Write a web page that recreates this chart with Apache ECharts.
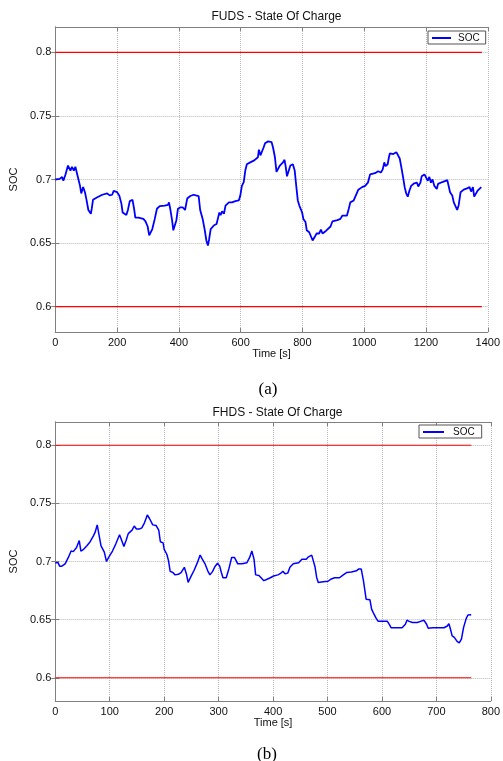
<!DOCTYPE html>
<html>
<head>
<meta charset="utf-8">
<script src="https://cdn.jsdelivr.net/npm/echarts@6/dist/echarts.min.js"></script>
<style>html,body{margin:0;padding:0;background:#fff;}#c{width:503px;height:761px;}</style>
</head>
<body>
<div id="c"></div>
<script>
// ---- Data ----
var fudsTime = [0,14,22,26,33,41,49,54,60,65,71,80,84,90,96,101,107,115,118,122,136,152,168,176,184,189,200,207,214,218,224,230,235,241,250,255,259,269,285,292,299,304,309,314,322,329,338,354,365,368,372,378,382,388,392,397,404,413,420,427,437,448,455,464,469,477,484,489,494,498,503,514,522,527,531,535,540,546,551,562,572,583,594,599,604,610,615,620,631,644,650,656,659,664,668,674,679,689,700,705,711,716,721,727,737,742,746,750,754,761,769,775,780,785,790,799,803,810,814,822,827,833,839,846,854,860,865,876,881,891,897,913,923,929,944,950,955,966,973,981,993,1003,1012,1019,1035,1045,1054,1060,1065,1069,1076,1080,1083,1094,1104,1110,1115,1120,1125,1131,1136,1141,1146,1152,1162,1171,1175,1182,1186,1195,1200,1206,1211,1216,1221,1227,1235,1239,1253,1269,1274,1278,1285,1290,1296,1301,1306,1312,1322,1333,1341,1346,1352,1356,1361,1368,1379];
var fudsSoc = [0.700,0.7005,0.702,0.699,0.704,0.711,0.707,0.710,0.707,0.710,0.704,0.695,0.689,0.694,0.690,0.684,0.676,0.673,0.677,0.684,0.686,0.688,0.689,0.6875,0.688,0.691,0.690,0.6875,0.681,0.674,0.674,0.672,0.676,0.683,0.684,0.677,0.670,0.670,0.669,0.667,0.663,0.656,0.655,0.661,0.669,0.677,0.679,0.6795,0.680,0.682,0.677,0.668,0.660,0.661,0.668,0.677,0.678,0.678,0.676,0.685,0.687,0.688,0.6875,0.687,0.676,0.669,0.660,0.652,0.648,0.653,0.661,0.664,0.665,0.670,0.674,0.672,0.675,0.673,0.6795,0.682,0.682,0.683,0.6835,0.6875,0.695,0.698,0.707,0.712,0.7135,0.715,0.716,0.7175,0.7235,0.719,0.720,0.725,0.7285,0.730,0.7295,0.725,0.7175,0.706,0.706,0.711,0.7135,0.7155,0.710,0.7025,0.702,0.711,0.712,0.707,0.695,0.6835,0.6795,0.674,0.669,0.6665,0.660,0.6585,0.658,0.652,0.6545,0.6575,0.6575,0.6605,0.6575,0.6595,0.661,0.663,0.667,0.668,0.669,0.6715,0.6715,0.677,0.682,0.6835,0.6875,0.692,0.694,0.695,0.6975,0.704,0.705,0.7065,0.7055,0.708,0.7135,0.7105,0.712,0.7175,0.7205,0.720,0.7215,0.7215,0.7165,0.710,0.703,0.694,0.689,0.6865,0.691,0.695,0.697,0.6975,0.6945,0.6975,0.7025,0.704,0.7045,0.699,0.702,0.6975,0.700,0.695,0.6925,0.6965,0.698,0.6995,0.699,0.690,0.6875,0.682,0.681,0.676,0.680,0.690,0.692,0.693,0.694,0.6905,0.694,0.6865,0.6875,0.6915,0.694];

var fhdsTime = [0,5,8,12,18,21,24,29,33,36,39,44,47,52,58,64,70,73,77,80,84,87,90,94,98,105,111,118,122,126,130,134,137,141,145,149,155,159,164,169,173,179,185,190,193,198,200,205,208,211,216,220,226,231,237,241,244,249,255,261,266,270,275,280,284,289,293,298,302,305,308,314,319,324,329,332,335,343,352,357,361,365,368,374,378,383,388,395,401,409,413,418,422,427,431,437,447,453,461,465,471,474,477,480,483,492,501,507,513,522,529,535,544,553,557,562,566,571,578,581,584,589,593,602,610,614,617,629,637,639,643,646,650,656,665,671,677,682,685,693,705,714,720,723,726,729,733,738,742,746,750,755,758,764];
var fhdsSoc = [0.699,0.699,0.696,0.696,0.698,0.699,0.7035,0.709,0.7085,0.707,0.712,0.718,0.709,0.7105,0.7135,0.717,0.722,0.725,0.7315,0.7235,0.7135,0.715,0.708,0.700,0.7035,0.709,0.715,0.723,0.718,0.713,0.718,0.724,0.723,0.727,0.7305,0.728,0.728,0.729,0.7335,0.740,0.737,0.7315,0.731,0.727,0.717,0.716,0.7105,0.706,0.7005,0.6915,0.6905,0.6885,0.689,0.6905,0.695,0.689,0.682,0.687,0.6925,0.699,0.7055,0.702,0.698,0.692,0.6885,0.6915,0.6955,0.6985,0.696,0.6905,0.686,0.686,0.694,0.7035,0.7035,0.701,0.698,0.698,0.699,0.7035,0.709,0.702,0.6885,0.688,0.686,0.6835,0.6845,0.686,0.6875,0.6885,0.6895,0.6915,0.6895,0.690,0.695,0.698,0.699,0.702,0.702,0.704,0.7055,0.7055,0.6955,0.6865,0.682,0.6825,0.683,0.685,0.686,0.686,0.6885,0.6905,0.691,0.692,0.6935,0.6935,0.6835,0.6675,0.667,0.659,0.656,0.6515,0.6485,0.6485,0.6485,0.6455,0.643,0.643,0.643,0.6415,0.646,0.6495,0.6485,0.6475,0.6475,0.6485,0.6495,0.646,0.6425,0.643,0.643,0.643,0.6445,0.6465,0.6415,0.636,0.6347,0.6313,0.630,0.6333,0.6433,0.6513,0.654,0.6542];

var socTicks = [0.6, 0.65, 0.7, 0.75, 0.8];
var limits = [0.6, 0.8];
var fudsLimitEnd = 1381;
var fhdsLimitEnd = 764;

function pairs(t, v) { return t.map(function (x, i) { return [x, v[i]]; }); }

var FONT = 'Liberation Sans, Arial, sans-serif';
var AXC = '#808080';

function xAxisPair(grid, max, interval) {
  return [
    { type: 'value', gridIndex: grid, min: 0, max: max, interval: interval, position: 'bottom',
      name: 'Time [s]', nameLocation: 'middle', nameGap: 15,
      nameTextStyle: { fontFamily: FONT, fontSize: 11, color: '#111' },
      axisLine: { lineStyle: { color: AXC, width: 1 } },
      axisTick: { inside: true, length: 4, lineStyle: { color: AXC } },
      axisLabel: { fontFamily: FONT, fontSize: 11, color: '#111', margin: 5,
        formatter: function (v) { return String(v); } },
      splitLine: { show: true, lineStyle: { type: 'dotted', color: '#b8b8b8', width: 1 } } },
    { type: 'value', gridIndex: grid, min: 0, max: max, interval: interval, position: 'top',
      axisLine: { show: true, lineStyle: { color: AXC, width: 1 } },
      axisTick: { inside: true, length: 4, lineStyle: { color: AXC } },
      axisLabel: { show: false }, splitLine: { show: false } }
  ];
}
function yAxisPair(grid) {
  return [
    { type: 'value', gridIndex: grid, min: 0.58, max: 0.82, position: 'left',
      name: 'SOC', nameLocation: 'middle', nameGap: 27, nameRotate: 90,
      nameTextStyle: { fontFamily: FONT, fontSize: 11, color: '#111' },
      axisLine: { show: true, lineStyle: { color: AXC, width: 1 } },
      axisTick: { show: true, inside: true, length: 4, customValues: socTicks, lineStyle: { color: AXC } },
      axisLabel: { fontFamily: FONT, fontSize: 11, color: '#111', margin: 4, customValues: socTicks,
        formatter: function (v) { return String(+v.toFixed(2)); } },
      splitLine: { show: true, lineStyle: { type: 'dotted', color: '#b8b8b8', width: 1 } } },
    { type: 'value', gridIndex: grid, min: 0.58, max: 0.82, position: 'right',
      axisLine: { show: true, lineStyle: { color: AXC, width: 1 } },
      axisTick: { show: true, inside: true, length: 4, customValues: socTicks, lineStyle: { color: AXC } },
      axisLabel: { show: false }, splitLine: { show: false } }
  ];
}

function limitSeries(xi, yi, level, end) {
  return { name: 'lim', type: 'line', xAxisIndex: xi, yAxisIndex: yi, symbol: 'none', silent: true,
    lineStyle: { color: '#ff0000', width: 1.2 }, data: [[0, level], [end, level]], z: 3 };
}

var chart = echarts.init(document.getElementById('c'), null, { renderer: 'canvas' });
function legendAt(left, top, padR, itemW, gap) {
  return {
    left: left, top: top,
    data: ['SOC'], orient: 'horizontal', icon: 'rect', itemWidth: itemW, itemHeight: 2, itemGap: 4,
    borderColor: '#555', borderWidth: 1, backgroundColor: '#fff', padding: [2, padR, 1, 4],
    textStyle: { fontFamily: FONT, fontSize: 10, color: '#111', padding: [0, 0, 0, gap] },
    selectedMode: false
  };
}
chart.setOption({
  animation: false,
  backgroundColor: '#fff',
  title: [
    { text: 'FUDS - State Of Charge', left: 271.5, top: 6, textAlign: 'center',
      textStyle: { fontFamily: FONT, fontSize: 12, fontWeight: 'normal', color: '#111' } },
    { text: 'FHDS - State Of Charge', left: 272.5, top: 402, textAlign: 'center',
      textStyle: { fontFamily: FONT, fontSize: 12, fontWeight: 'normal', color: '#111' } },
    { text: '(a)', left: 263, top: 376, textAlign: 'center',
      textStyle: { fontFamily: 'Liberation Serif, Times New Roman, serif', fontSize: 17, fontWeight: 'normal', color: '#000' } },
    { text: '(b)', left: 262, top: 741, textAlign: 'center',
      textStyle: { fontFamily: 'Liberation Serif, Times New Roman, serif', fontSize: 17, fontWeight: 'normal', color: '#000' } }
  ],
  legend: [
    legendAt(428, 31, 6, 19, 2),
    legendAt(419, 425, 7, 21, 4)
  ],
  grid: [
    { left: 52, top: 27, width: 439, height: 305, containLabel: false },
    { left: 53, top: 422, width: 439, height: 279, containLabel: false }
  ],
  xAxis: xAxisPair(0, 1400, 200).concat(xAxisPair(1, 800, 100)),
  yAxis: yAxisPair(0).concat(yAxisPair(1)),
  series: [
    limitSeries(0, 0, limits[1], fudsLimitEnd),
    limitSeries(0, 0, limits[0], fudsLimitEnd),
    { name: 'SOC', type: 'line', xAxisIndex: 0, yAxisIndex: 0, symbol: 'none', showSymbol: false,
      lineStyle: { color: '#0000ff', width: 1.8 }, itemStyle: { color: '#0000ff' },
      data: pairs(fudsTime, fudsSoc), z: 4 },
    limitSeries(2, 2, limits[1], fhdsLimitEnd),
    limitSeries(2, 2, limits[0], fhdsLimitEnd),
    { name: 'SOC', type: 'line', xAxisIndex: 2, yAxisIndex: 2, symbol: 'none', showSymbol: false,
      lineStyle: { color: '#0000ff', width: 1.5 }, itemStyle: { color: '#0000ff' },
      data: pairs(fhdsTime, fhdsSoc), z: 4 }
  ]
});
</script>
</body>
</html>
